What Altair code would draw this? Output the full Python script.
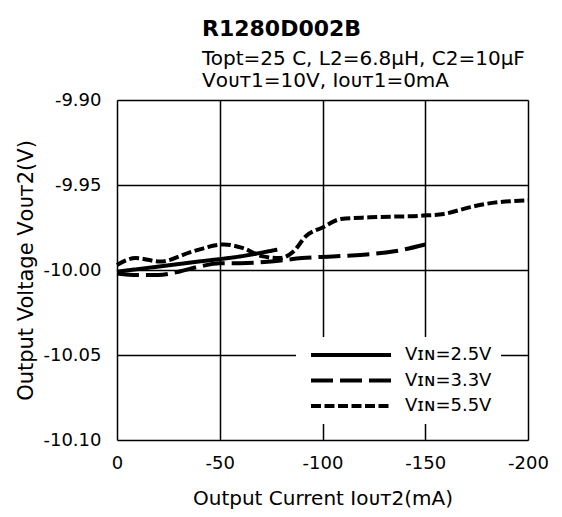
import altair as alt
import pandas as pd

FONT = "DejaVu Sans"

series_names = ["Vɪɴ=2.5V", "Vɪɴ=3.3V", "Vɪɴ=5.5V"]

x_25 = [0, -20, -40, -60, -78]
y_25 = [-10.001, -9.998, -9.995, -9.992, -9.988]

x_33 = [0, -10, -20, -30, -40, -50, -60, -75, -90, -105, -120, -135, -150]
y_33 = [-10.002, -10.003, -10.003, -10.001, -9.998, -9.996, -9.996, -9.995,
        -9.993, -9.992, -9.991, -9.989, -9.985]

x_55 = [0, -9, -21, -37, -52, -61, -71, -79, -86, -92, -100, -109, -123,
        -149, -159, -172, -180, -200]
y_55 = [-9.997, -9.993, -9.995, -9.989, -9.985, -9.987, -9.992, -9.993,
        -9.989, -9.980, -9.975, -9.970, -9.969, -9.968, -9.967, -9.963,
        -9.961, -9.959]

x_ticks = [0, -50, -100, -150, -200]
y_ticks = [-10.10, -10.05, -10.00, -9.95, -9.90]

rows = []
for name, xs, ys in zip(series_names, [x_25, x_33, x_55], [y_25, y_33, y_55]):
    for i, (xv, yv) in enumerate(zip(xs, ys)):
        rows.append({"series": name, "i": i, "current": xv, "voltage": yv})
df = pd.DataFrame(rows)

chart = alt.Chart(df).mark_line(strokeWidth=4, interpolate="monotone", strokeCap="butt").encode(
    x=alt.X("current:Q",
            scale=alt.Scale(domain=[-200, 0], reverse=True, nice=False, zero=False),
            axis=alt.Axis(values=x_ticks, title="Output Current Iᴏᴜᴛ2(mA)",
                          labelExpr="datum.value < 0 ? '-' + format(-datum.value, 'd') : '0'",
                          ticks=False, domain=False, grid=True, gridColor="black",
                          gridWidth=1.5, gridOpacity=1, labelPadding=14,
                          labelFlush=False,
                          labelFont=FONT, labelFontSize=18, labelColor="black",
                          titleFont=FONT, titleFontSize=20, titleFontWeight="normal",
                          titleColor="black", titlePadding=16)),
    y=alt.Y("voltage:Q",
            scale=alt.Scale(domain=[-10.10, -9.90], nice=False, zero=False),
            axis=alt.Axis(values=y_ticks, title="Output Voltage Vᴏᴜᴛ2(V)",
                          labelExpr="datum.value < 0 ? '-' + format(-datum.value, '.2f') : format(datum.value, '.2f')",
                          ticks=False, domain=False, grid=True, gridColor="black",
                          gridWidth=1.5, gridOpacity=1, labelPadding=16,
                          labelFlush=False,
                          labelFont=FONT, labelFontSize=18, labelColor="black",
                          titleFont=FONT, titleFontSize=21, titleFontWeight="normal",
                          titleColor="black", titlePadding=6)),
    strokeDash=alt.StrokeDash("series:N",
                              scale=alt.Scale(domain=series_names,
                                              range=[[1, 0], [22, 7], [10, 3.5]]),
                              sort=series_names,
                              legend=alt.Legend(title=None, orient="none",
                                                legendX=179, legendY=237,
                                                fillColor="white", padding=9,
                                                symbolType="stroke", symbolSize=6400,
                                                symbolStrokeWidth=4,
                                                symbolStrokeColor="black",
                                                symbolOffset=4, clipHeight=18,
                                                labelOffset=12, rowPadding=7.5,
                                                labelFont=FONT, labelFontSize=18,
                                                labelColor="black", labelLimit=200)),
    color=alt.value("black"),
    detail="series:N",
    order="i:Q",
).properties(
    width=411,
    height=340,
    autosize=alt.AutoSizeParams(type="none"),
    padding={"left": 109, "top": 92, "right": 26, "bottom": 69},
    title=alt.TitleParams(
        text="R1280D002B",
        subtitle=["Topt=25 C, L2=6.8µH, C2=10µF", "Vᴏᴜᴛ1=10V, Iᴏᴜᴛ1=0mA"],
        anchor="start", frame="group", dx=85, offset=-1,
        font=FONT, fontSize=22, fontWeight="bold", color="black",
        subtitleFont=FONT, subtitleFontSize=20, subtitleColor="black",
        subtitleLineHeight=22, subtitlePadding=8,
    ),
).configure_view(
    stroke="black", strokeWidth=1.5
).configure(background="white")

chart.save("out.html", embed_options={"renderer": "svg", "actions": False})
